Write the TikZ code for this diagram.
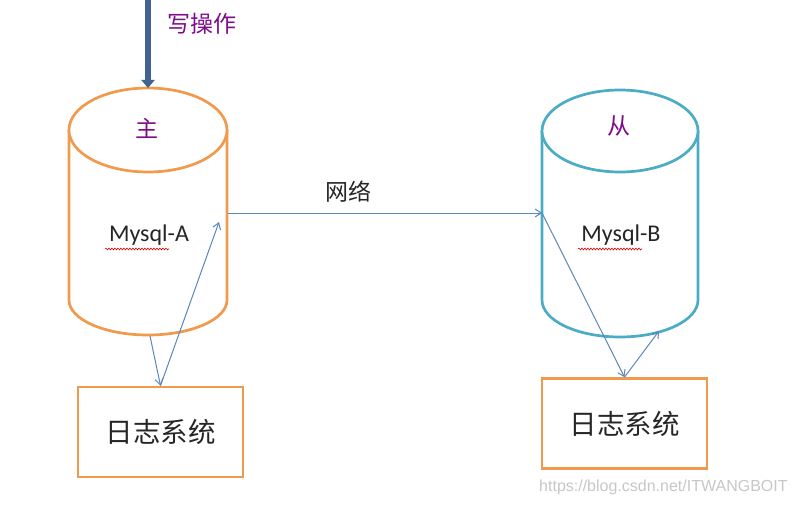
\documentclass[tikz,border=0pt]{standalone}
\usepackage{fontspec}
\setmainfont{Carlito}
\newfontfamily\cjk{Noto Sans CJK SC}
\newfontfamily\wm{Liberation Sans}
\usetikzlibrary{arrows.meta,decorations.pathmorphing}
\definecolor{cylorange}{HTML}{F09A4E}
\definecolor{cylblue}{HTML}{4BACC6}
\definecolor{linkblue}{HTML}{5B86BE}
\definecolor{writeblue}{HTML}{41638F}
\definecolor{labpurple}{HTML}{7F0C8A}
\definecolor{txtdark}{HTML}{262626}
\tikzset{
  cylA/.style={draw=cylorange,line width=2.7pt,fill=white},
  cylB/.style={draw=cylblue,line width=2.7pt,fill=white},
  logbox/.style={draw=cylorange,line width=2.7pt,fill=white,minimum width=165pt,minimum height=90pt,inner sep=0pt,font=\cjk\fontsize{27.5pt}{30pt}\selectfont,text=txtdark},
  link/.style={draw=linkblue,line width=1pt,-{Straight Barb[length=6pt,width=8pt]}},
  purplelab/.style={text=labpurple,font=\cjk\fontsize{23pt}{26pt}\selectfont,inner sep=0pt},
  dbname/.style={text=txtdark,font=\fontsize{24pt}{28pt}\selectfont,inner sep=0pt},
  squig/.style={draw=red!85!black,line width=0.6pt,decorate,decoration={snake,amplitude=0.9pt,segment length=3pt}}
}
\begin{document}
\begin{tikzpicture}[x=1pt,y=-1pt]
\useasboundingbox (0,0) rectangle (794,505);
% cylinder A
\draw[cylA] (69,130) -- (69,300) arc[start angle=180,end angle=0,x radius=79,y radius=35] -- (227,130);
\draw[cylA] (148,130) ellipse [x radius=79,y radius=42];
% cylinder B
\draw[cylB] (542,131) -- (542,300) arc[start angle=180,end angle=0,x radius=78,y radius=37] -- (698,131);
\draw[cylB] (620,131) ellipse [x radius=78,y radius=41];
% named points
\coordinate (Atop) at (148,88);
\coordinate (Wsrc) at (148,0);
\coordinate (Aout) at (228,213);
\coordinate (Ain) at (219,222);
\coordinate (Abot) at (150,336);
\coordinate (Bin) at (542,213);
\coordinate (Bbot) at (659,331);
% labels
\node[purplelab] (zhu) at (147,128) {主};
\node[purplelab] (cong) at (619,126) {从};
\node[purplelab] (write) at (202,24) {写操作};
\node[dbname] (mA) at (149,235) {Mysql-A};
\node[dbname] (mB) at (621,235) {Mysql-B};
\draw[squig] (105,249) -- (169,249);
\draw[squig] (578,249) -- (642,249);
\node[text=txtdark,font=\cjk\fontsize{23pt}{26pt}\selectfont,inner sep=0pt] (net) at (348,192) {网络};
% log boxes
\node[logbox] (logA) at (160.5,432) {日志系统};
\node[logbox] (logB) at (624.5,423.5) {日志系统};
% write arrow
\draw[draw=writeblue,line width=6pt,-{Triangle[length=8pt,width=13pt]}] (Wsrc) -- (Atop);
% links
\draw[link] (Aout) -- (Bin);
\draw[link] (Abot) -- (logA.north);
\draw[link] (logA.north) -- (Ain);
\draw[link] (Bin) -- (logB.north);
\draw[link] (logB.north) -- (Bbot);
% watermark
\node[text=black!22,font=\wm\fontsize{16pt}{19pt}\selectfont,inner sep=0pt,anchor=west] (wmark) at (539,487) {https://blog.csdn.net/ITWANGBOIT};
\end{tikzpicture}
\end{document}
